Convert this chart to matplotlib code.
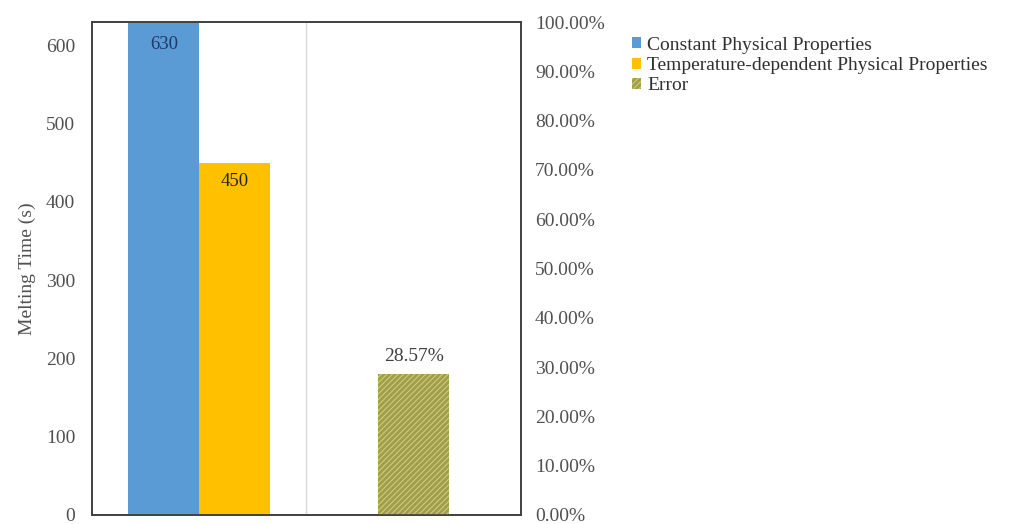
import matplotlib.pyplot as plt
from matplotlib.ticker import PercentFormatter

plt.rcParams['font.family'] = ['Liberation Serif', 'DejaVu Serif']
plt.rcParams['hatch.linewidth'] = 0.8

groups = [0, 1]
series_names = ['Constant Physical Properties',
                'Temperature-dependent Physical Properties',
                'Error']
constant_time = 630
variable_time = 450
error_ratio = 0.2857

w = 0.33
fig = plt.figure(figsize=(10.14, 5.24), dpi=100)
ax = fig.add_axes([0.0907, 0.0172, 0.4231, 0.9408])
ax2 = ax.twinx()

b1 = ax.bar(groups[0] - w / 2, constant_time, w, color='#5b9bd5', label=series_names[0])
b2 = ax.bar(groups[0] + w / 2, variable_time, w, color='#ffc000', label=series_names[1])
b3 = ax2.bar(groups[1], error_ratio, w, facecolor='#9e9e52', edgecolor='#d4cc6c',
             hatch='//////', linewidth=0, label=series_names[2])

ax.text(groups[0] - w / 2, constant_time - 18, f'{constant_time}', ha='center', va='top',
        fontsize=13.5, color='#1f3864')
ax.text(groups[0] + w / 2, variable_time - 13, f'{variable_time}', ha='center', va='top',
        fontsize=13.5, color='#262626')
ax2.text(groups[1], error_ratio + 0.018, f'{error_ratio:.2%}', ha='center', va='bottom',
         fontsize=14, color='#404040')

ax.axvline(0.5, color='#d9d9d9', lw=1)
ax.set_xlim(-0.5, 1.5)
ax.set_ylim(0, 630)
ax.set_yticks(range(0, 601, 100))
ax.set_xticks([])
ax2.set_ylim(0, 1)
ax2.set_yticks([i / 10 for i in range(11)])
ax2.yaxis.set_major_formatter(PercentFormatter(1.0, decimals=2))

for a in (ax, ax2):
    a.tick_params(length=0, labelsize=14, colors='#505050')
    for s in a.spines.values():
        s.set_color('#404040')
        s.set_linewidth(1.2)
ax.tick_params(pad=12)
ax2.tick_params(pad=10)
ax.set_ylabel('Melting Time (s)', fontsize=14, color='#505050', labelpad=7)

handles = [b1, b2, b3]
fig.legend(handles, series_names, loc='upper left', bbox_to_anchor=(0.623, 0.93),
           frameon=False, fontsize=14, handlelength=0.5, handleheight=0.5,
           handletextpad=0.3, labelspacing=0.17, borderaxespad=0, borderpad=0,
           labelcolor='#303030')

fig.savefig('out.png', dpi=100)
